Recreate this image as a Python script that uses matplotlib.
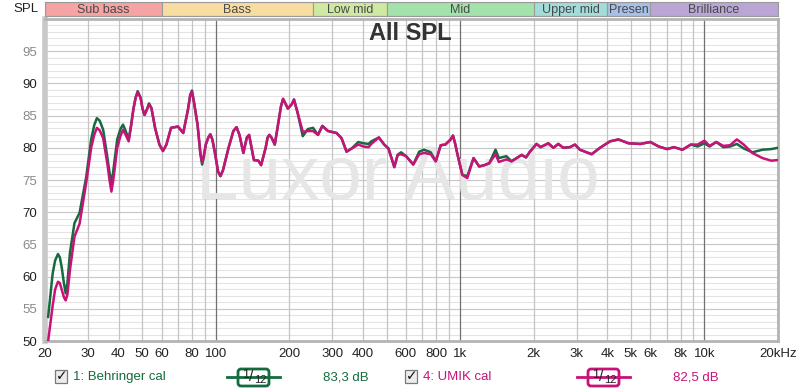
import matplotlib
matplotlib.use("Agg")
import matplotlib.pyplot as plt
from matplotlib.patches import Rectangle, FancyBboxPatch
from matplotlib.ticker import NullLocator

plt.rcParams['font.family'] = ['Liberation Sans', 'DejaVu Sans']

# --- data --------------------------------------------------------------
freq_hz = [
    20.6, 21.5, 22.0, 22.6, 23.0, 23.4, 23.9, 24.3, 24.7, 25.3,
    26.4, 27.7, 29.5, 30.9, 31.8, 32.6, 33.5, 34.6, 36.0, 36.8,
    37.4, 38.0, 38.5, 39.5, 40.7, 41.7, 42.8, 44.0, 45.0, 46.0,
    47.0, 47.9, 49.2, 50.2, 51.1, 52.2, 53.3, 54.5, 56.5, 58.8,
    60.8, 62.8, 65.6, 70.0, 73.6, 77.0, 78.6, 79.9, 81.5, 84.2,
    86.5, 87.9, 89.3, 91.0, 93.2, 95.0, 96.8, 99.0, 102.2, 104.5,
    107.0, 112.8, 118.0, 121.6, 125.0, 129.7, 134.0, 136.9, 143.2, 149.5,
    153.3, 160, 163, 165.7, 169, 174.4, 185, 188.6, 192, 197.2,
    205, 209, 216, 227, 238, 250, 262, 273, 288, 312,
    327, 343, 360, 383, 402, 422, 433, 465, 489, 509,
    538, 555, 573, 601, 643, 680, 712, 758, 795, 833,
    870, 915, 935, 955, 975, 1021, 1070, 1135, 1197, 1255,
    1316, 1396, 1441, 1546, 1623, 1703, 1786, 1860, 1931, 2056,
    2135, 2296, 2407, 2523, 2644, 2815, 2951, 3093, 3242, 3453,
    3737, 4105, 4445, 4891, 5462, 6003, 6500, 7040, 7497, 8125,
    8800, 9372, 9996, 10490, 11180, 11940, 12730, 13570, 14480, 15700,
    17290, 18760, 20000,
]
behringer_db = [
    53.7, 60.5, 62.5, 63.5, 63.0, 61.5, 59.0, 57.4, 59.0, 63.7,
    68.3, 69.9, 75.5, 81.3, 83.5, 84.6, 84.2, 82.8, 78.5, 76.0,
    74.5, 76.2, 78.0, 81.3, 82.9, 83.6, 82.6, 81.3, 83.5, 86.0,
    87.8, 88.8, 87.8, 86.0, 85.1, 85.9, 86.9, 86.2, 83.0, 80.5,
    79.5, 80.5, 83.1, 83.3, 82.3, 86.0, 88.2, 88.9, 87.0, 83.6,
    79.0, 77.4, 78.5, 80.5, 81.6, 82.1, 81.3, 79.4, 76.3, 75.6,
    76.5, 80.0, 82.6, 83.2, 82.0, 79.2, 81.6, 82.0, 78.1, 78.0,
    77.3, 80.0, 81.6, 82.0, 81.6, 80.5, 86.5, 87.6, 87.0, 86.1,
    86.8, 87.5, 85.5, 81.8, 82.9, 83.1, 82.0, 83.4, 82.6, 82.3,
    81.5, 79.4, 79.9, 80.9, 80.7, 80.6, 81.0, 81.6, 80.5, 79.9,
    77.0, 78.9, 79.3, 78.7, 77.4, 79.4, 79.7, 79.3, 77.9, 80.4,
    80.5, 81.3, 81.9, 80.6, 79.0, 75.8, 75.6, 78.4, 77.1, 77.3,
    77.6, 79.7, 78.4, 78.7, 77.9, 78.4, 78.9, 78.5, 79.4, 80.6,
    80.1, 80.7, 80.0, 80.6, 80.0, 80.1, 80.5, 79.7, 79.4, 79.0,
    80.0, 81.0, 81.3, 80.7, 80.6, 80.9, 80.2, 79.8, 80.1, 79.7,
    80.5, 80.2, 80.7, 80.2, 80.9, 80.1, 80.2, 80.6, 79.9, 79.3,
    79.7, 79.8, 80.0,
]
umik_db = [
    50.0, 55.5, 58.0, 59.2, 59.0, 58.0, 56.8, 56.3, 57.2, 61.0,
    66.2, 68.2, 74.6, 80.0, 82.0, 83.1, 82.7, 81.5, 77.5, 74.8,
    73.2, 74.8, 76.5, 80.0, 81.8, 82.8, 82.0, 81.0, 83.3, 86.0,
    87.8, 88.6, 87.8, 86.0, 85.1, 85.9, 86.7, 86.2, 83.0, 80.5,
    79.5, 80.5, 83.1, 83.3, 82.3, 86.0, 88.2, 88.7, 87.0, 83.6,
    79.2, 77.8, 78.7, 80.5, 81.6, 82.1, 81.3, 79.4, 76.3, 75.6,
    76.5, 80.0, 82.6, 83.2, 82.0, 79.2, 81.6, 82.0, 78.1, 78.0,
    77.3, 80.0, 81.6, 82.0, 81.6, 80.5, 86.5, 87.6, 87.0, 86.1,
    86.8, 87.5, 85.5, 82.5, 82.6, 82.6, 82.0, 83.4, 82.6, 82.3,
    81.5, 79.4, 79.9, 80.5, 80.2, 80.1, 80.6, 81.6, 80.5, 79.9,
    77.0, 78.9, 79.0, 78.7, 77.4, 79.0, 79.2, 79.0, 77.9, 80.4,
    80.5, 81.3, 81.9, 80.6, 79.0, 75.8, 75.3, 78.4, 77.1, 77.3,
    77.6, 79.0, 77.8, 78.2, 77.9, 78.4, 78.9, 78.5, 79.4, 80.6,
    80.1, 80.7, 80.0, 80.6, 80.0, 80.1, 80.5, 79.7, 79.4, 79.0,
    80.0, 81.0, 81.3, 80.7, 80.6, 80.9, 80.2, 79.8, 80.1, 79.7,
    80.5, 80.5, 81.1, 80.3, 80.9, 80.3, 80.4, 81.3, 80.5, 79.2,
    78.4, 78.0, 78.1,
]

band_names = ["Sub bass", "Bass", "Low mid", "Mid", "Upper mid", "Presen", "Brilliance"]
band_edges = [20, 60, 250, 500, 2000, 4000, 6000, 20000]
band_colors = ["#f5a3a3", "#f7dea0", "#cfe8a2", "#a3e2aa", "#a3dcd8", "#a8bfe8", "#b9a6d4"]

xtick_hz = [20, 30, 40, 50, 60, 80, 100, 200, 300, 400, 600, 800,
            1000, 2000, 3000, 4000, 5000, 6000, 8000, 10000, 20000]
xtick_labels = ["20", "30", "40", "50", "60", "80", "100", "200", "300", "400",
                "600", "800", "1k", "2k", "3k", "4k", "5k", "6k", "8k", "10k", "20kHz"]
ytick_db = [50, 55, 60, 65, 70, 75, 80, 85, 90, 95]

series_names = ["1: Behringer cal", "4: UMIK cal"]
series_levels = ["83,3 dB", "82,5 dB"]
series_colors = ["#146b3e", "#c8127a"]

# --- layout (pixels of the 800x392 canvas) ------------------------------
W, H = 800, 392
X0, X1, Y0, Y1 = 45, 778, 19, 341

fig = plt.figure(figsize=(W / 100, H / 100), dpi=100)

ax = fig.add_axes([X0 / W, 1 - Y1 / H, (X1 - X0) / W, (Y1 - Y0) / H])
ax.set_xscale("log")
ax.set_xlim(20, 20000)
ax.set_ylim(50, 100)

# grid
for dec in (10, 100, 1000, 10000):
    for m in range(1, 10):
        f = m * dec
        if 20 <= f <= 20000:
            ax.axvline(f, color="#707070" if m == 1 else "#c4c4c4", lw=0.9, zorder=1)
for v in range(51, 100):
    ax.axhline(v, color="#c6c6c6" if v % 5 == 0 else "#e4e4e4", lw=0.8, zorder=0.5)

ax.set_xticks(xtick_hz, xtick_labels)
ax.xaxis.set_minor_locator(NullLocator())
ax.set_yticks(ytick_db, [str(v) for v in ytick_db])
ax.tick_params(length=0, labelsize=9.5, colors="#222222")
ax.tick_params(axis="x", pad=5)
ax.tick_params(axis="y", pad=6)
for lab, v in zip(ax.get_yticklabels(), ytick_db):
    lab.set_color("#222222" if v % 10 == 0 else "#8a8a8a")

for side, sp in ax.spines.items():
    sp.set_color("#b4b4b4")
    sp.set_linewidth(2)
ax.spines["left"].set_linewidth(4)
ax.spines["left"].set_color("#c8c8c8")

# watermark + title
ax.text(398 / W, 1 - 180 / H, "Luxor Audio", transform=fig.transFigure,
        fontsize=55, color="#e6e6e6", ha="center", va="center", zorder=2)
ax.text(410 / W, 1 - 34 / H, "All SPL", transform=fig.transFigure,
        fontsize=17, fontweight="bold", color="#333333", ha="center", va="center", zorder=5)

ax.plot(freq_hz, behringer_db, color=series_colors[0], lw=1.8,
        solid_joinstyle="round", solid_capstyle="round", zorder=3)
ax.plot(freq_hz, umik_db, color=series_colors[1], lw=1.8,
        solid_joinstyle="round", solid_capstyle="round", zorder=4)

# band bar
bx = fig.add_axes([X0 / W, 1 - 16 / H, (X1 - X0) / W, 14 / H])
bx.set_xscale("log")
bx.set_xlim(20, 20000)
bx.set_ylim(0, 1)
bx.set_xticks([])
bx.set_yticks([])
bx.xaxis.set_minor_locator(NullLocator())
for name, lo, hi, c in zip(band_names, band_edges[:-1], band_edges[1:], band_colors):
    bx.axvspan(lo, hi, facecolor=c, edgecolor="#9a9a9a", lw=0.8)
    bx.text((lo * hi) ** 0.5, 0.45, name, ha="center", va="center",
            fontsize=9, color="#4a4a4a")
for sp in bx.spines.values():
    sp.set_color("#9a9a9a")
    sp.set_linewidth(0.8)

# overlay for labels and the legend row
ov = fig.add_axes([0, 0, 1, 1])
ov.set_xlim(0, W)
ov.set_ylim(H, 0)
ov.axis("off")
ov.text(26, 9, "SPL", ha="center", va="center", fontsize=9.5, color="#222222")

legend_x = [55, 405]
for i, (name, level, c) in enumerate(zip(series_names, series_levels, series_colors)):
    x0 = legend_x[i]
    ov.add_patch(Rectangle((x0, 370), 12, 13, facecolor="#ececec",
                           edgecolor="#7a7a7a", lw=0.9))
    ov.text(x0 + 6.5, 376.5, "\u2713", ha="center", va="center", fontsize=10,
            fontweight="bold", color="#111111", family=["DejaVu Sans"])
    ov.text(x0 + 18, 377, name, ha="left", va="center", fontsize=9.5, color=c)
    # smoothing icon
    lx = x0 + 172
    ov.plot([lx, lx + 53], [377, 377], color=c, lw=2)
    ov.add_patch(FancyBboxPatch((lx + 11, 369), 31, 17,
                                boxstyle="round,pad=0,rounding_size=3",
                                facecolor="white", edgecolor=c, lw=2))
    ov.text(lx + 19, 375, "1", ha="center", va="center", fontsize=9, color="#222222")
    ov.text(lx + 24, 377, "/", ha="center", va="center", fontsize=11, color="#222222")
    ov.text(lx + 33, 380, "12", ha="center", va="center", fontsize=8, color="#222222")
    ov.text(x0 + 291, 377, level, ha="center", va="center", fontsize=9.5, color=c)

fig.savefig("out.png", dpi=100)
